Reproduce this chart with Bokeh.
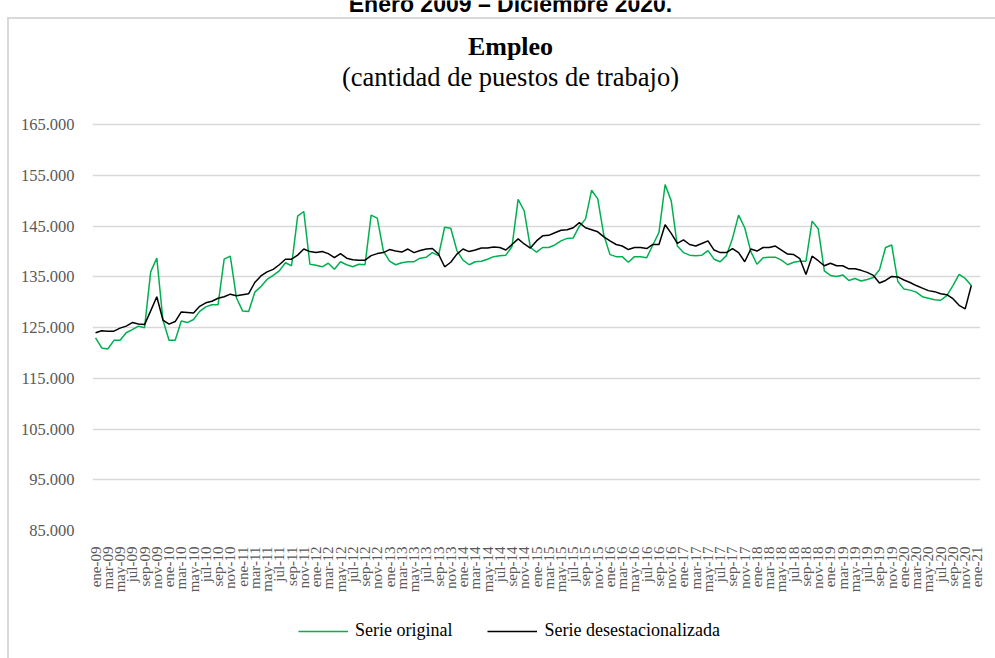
from math import pi
from bokeh.plotting import figure
from bokeh.layouts import column
from bokeh.models import Range1d, FixedTicker, Label, Legend, LegendItem
from bokeh.embed import file_html
from bokeh.resources import INLINE

# ---------------- data ----------------
meses = ["ene", "feb", "mar", "abr", "may", "jun", "jul", "ago", "sep", "oct", "nov", "dic"]
anios = ["09", "10", "11", "12", "13", "14", "15", "16", "17", "18", "19", "20"]
etiquetas_mes = [f"{m}-{a}" for a in anios for m in meses] + ["ene-21"]

# Empleo (miles de puestos), ene-09 .. dic-20
serie_original = [
    123.0, 121.0, 120.8, 122.5, 122.5, 124.0, 124.6, 125.3, 125.0, 136.0, 138.7, 126.5,
    122.5, 122.5, 126.3, 126.0, 126.6, 128.2, 129.1, 129.5, 129.5, 138.5, 139.1, 130.9,
    128.3, 128.2, 132.0, 133.1, 134.5, 135.3, 136.2, 137.8, 137.2, 147.0, 147.9, 137.5,
    137.3, 137.0, 137.7, 136.5, 138.0, 137.4, 137.0, 137.5, 137.4, 147.2, 146.6, 140.1,
    138.1, 137.4, 137.8, 138.0, 138.0, 138.7, 138.9, 139.8, 139.2, 144.8, 144.6, 140.2,
    138.3, 137.4, 138.0, 138.1, 138.5, 139.0, 139.2, 139.3, 141.0, 150.3, 148.0, 140.8,
    139.9, 140.8, 140.8, 141.3, 142.1, 142.6, 142.7, 145.0, 146.4, 152.1, 150.4, 143.2,
    139.4, 139.0, 139.0, 137.9, 139.0, 139.0, 138.8, 141.3, 143.8, 153.2, 150.0, 141.1,
    139.8, 139.3, 139.2, 139.3, 140.2, 138.5, 138.0, 139.2, 142.6, 147.2, 144.7, 140.0,
    137.5, 138.8, 138.9, 138.9, 138.3, 137.4, 137.9, 138.1, 138.1, 146.0, 144.5, 136.2,
    135.3, 135.1, 135.4, 134.3, 134.7, 134.2, 134.5, 134.9, 136.4, 140.8, 141.3, 134.1,
    132.6, 132.4, 132.0, 131.1, 130.8, 130.5, 130.4, 131.3, 133.3, 135.5, 134.7, 133.3,
]
serie_desest = [
    124.0, 124.4, 124.3, 124.3, 124.9, 125.3, 126.0, 125.7, 125.6, 128.3, 131.1, 126.5,
    125.7, 126.2, 128.1, 128.0, 127.9, 129.2, 129.9, 130.2, 130.8, 131.1, 131.6, 131.3,
    131.5, 131.7, 133.9, 135.2, 136.0, 136.5, 137.4, 138.5, 138.5, 139.3, 140.5, 140.0,
    139.8, 140.0, 139.6, 138.8, 139.6, 138.7, 138.4, 138.3, 138.3, 139.2, 139.6, 139.8,
    140.4, 140.1, 139.9, 140.5, 139.8, 140.2, 140.5, 140.6, 139.5, 137.0, 137.9, 139.5,
    140.5, 140.0, 140.3, 140.7, 140.7, 140.9, 140.8, 140.3, 141.4, 142.5, 141.5, 140.7,
    142.1, 143.1, 143.2, 143.7, 144.2, 144.3, 144.7, 145.7, 144.7, 144.3, 143.9, 142.9,
    142.1, 141.4, 141.1, 140.4, 140.8, 140.8, 140.6, 141.4, 141.4, 145.3, 143.6, 141.6,
    142.3, 141.4, 141.1, 141.6, 142.1, 140.3, 139.8, 139.8, 140.6, 139.8, 138.0, 140.5,
    140.1, 140.8, 140.8, 141.1, 140.3, 139.5, 139.4, 138.6, 135.5, 139.1, 138.2, 137.2,
    137.7, 137.2, 137.2, 136.6, 136.6, 136.3, 135.9, 135.3, 133.8, 134.3, 135.1, 135.0,
    134.4, 133.9, 133.3, 132.8, 132.3, 132.1, 131.7, 131.5, 130.7, 129.4, 128.7, 133.3,
]
y_ticks = [85, 95, 105, 115, 125, 135, 145, 155, 165]
y_tick_labels = ["85.000", "95.000", "105.000", "115.000", "125.000",
                 "135.000", "145.000", "155.000", "165.000"]

titulo_sup = "Enero 2009 – Diciembre 2020."
titulo = "Empleo"
subtitulo = "(cantidad de puestos de trabajo)"
nombres = ["Serie original", "Serie desestacionalizada"]

x = list(range(len(serie_original)))

# ---------------- layout (pixels) ----------------
W = 995
H_MAIN, H_LEG = 595, 63
LEFT, RIGHT, BOTTOM = 92, 15, 62
PLOT_H = 408                     # height of the 85.000-165.000 band
frame_h = H_MAIN - BOTTOM        # frame reaches the top of the canvas
y_top = y_ticks[0] + (y_ticks[-1] - y_ticks[0]) * frame_h / PLOT_H
SERIF = "Liberation Serif"
GREEN, BLACK = "#00b050", "#000000"
FRAME_CSS = "linear-gradient(#d9d9d9,#d9d9d9)"

p = figure(width=W, height=H_MAIN, output_backend="svg", toolbar_location=None,
           x_range=Range1d(-0.5, len(etiquetas_mes) - 0.5),
           y_range=Range1d(y_ticks[0], y_top),
           min_border_left=LEFT, min_border_right=RIGHT, min_border_top=0,
           min_border_bottom=BOTTOM)
p.background_fill_color = None
p.border_fill_color = None
p.outline_line_color = None
# light outer frame (left and top edges) behind the transparent canvas
p.styles = {
    "background-color": "white",
    "background-image": f"{FRAME_CSS}, {FRAME_CSS}",
    "background-size": "2px 100%, 100% 2px",
    "background-position": "7px 17px, 7px 17px",
    "background-repeat": "no-repeat",
}

r1 = p.line(x, serie_original, line_color=GREEN, line_width=1.5)
r2 = p.line(x, serie_desest, line_color=BLACK, line_width=1.5)

xt = list(range(0, len(etiquetas_mes), 2))
p.xaxis.ticker = FixedTicker(ticks=xt, minor_ticks=[])
p.xaxis.major_label_overrides = {i: etiquetas_mes[i] for i in xt}
p.xaxis.major_label_orientation = pi / 2
p.xaxis.axis_line_color = None
p.xaxis.major_tick_line_color = None
p.xaxis.minor_tick_line_color = None
p.xaxis.major_label_standoff = 10
p.xaxis.major_label_text_font = SERIF
p.xaxis.major_label_text_font_size = "15px"
p.xaxis.major_label_text_color = "#595959"

p.yaxis.ticker = FixedTicker(ticks=y_ticks, minor_ticks=[])
p.yaxis.major_label_overrides = dict(zip(y_ticks, y_tick_labels))
p.yaxis.axis_line_color = None
p.yaxis.major_tick_line_color = None
p.yaxis.minor_tick_line_color = None
p.yaxis.major_label_standoff = 12
p.yaxis.major_label_text_font = SERIF
p.yaxis.major_label_text_font_size = "16.5px"
p.yaxis.major_label_text_color = "#595959"

p.xgrid.visible = False
p.ygrid.grid_line_color = "#d9d9d9"
p.ygrid.grid_line_width = 1.5

# titles (screen units: from the frame's bottom-left corner, y upwards)
cx = 510 - LEFT
p.add_layout(Label(x=cx, y=frame_h - 6, x_units="screen", y_units="screen", text=titulo_sup,
                   text_font="Liberation Sans", text_font_style="bold",
                   text_font_size="23px", text_color=BLACK,
                   text_align="center", text_baseline="alphabetic"))
p.add_layout(Label(x=cx, y=frame_h - 49, x_units="screen", y_units="screen", text=titulo,
                   text_font=SERIF, text_font_style="bold", text_font_size="26px",
                   text_color=BLACK, text_align="center", text_baseline="alphabetic"))
p.add_layout(Label(x=cx, y=frame_h - 79, x_units="screen", y_units="screen", text=subtitulo,
                   text_font=SERIF, text_font_size="26.5px",
                   text_color=BLACK, text_align="center", text_baseline="alphabetic"))

# ---------------- legend strip ----------------
q = figure(width=W, height=H_LEG, output_backend="svg", toolbar_location=None,
           x_range=Range1d(-0.5, len(etiquetas_mes) - 0.5), y_range=Range1d(0, 1),
           x_axis_type=None, y_axis_type=None,
           min_border_left=0, min_border_right=0, min_border_top=0, min_border_bottom=0)
q.background_fill_color = None
q.border_fill_color = None
q.outline_line_color = None
q.grid.visible = False
q.styles = {
    "background-color": "white",
    "background-image": FRAME_CSS,
    "background-size": "2px 100%",
    "background-position": "7px 0px",
    "background-repeat": "no-repeat",
}
# the series themselves (outside this strip's visible range) feed the legend keys
l1 = q.line(x, serie_original, line_color=GREEN, line_width=1.5)
l2 = q.line(x, serie_desest, line_color=BLACK, line_width=1.5)

legend = Legend(items=[LegendItem(label=nombres[0], renderers=[l1]),
                       LegendItem(label=nombres[1], renderers=[l2])],
                orientation="horizontal", location=(298 - LEFT, 17),
                glyph_width=50, glyph_height=20, label_height=20, label_standoff=7,
                spacing=35, padding=0, margin=0,
                border_line_color=None, background_fill_alpha=0,
                label_text_font=SERIF, label_text_font_size="18px",
                label_text_color=BLACK)
q.add_layout(legend)

layout = column(p, q, spacing=0)
open("out.html", "w").write(file_html(layout, INLINE))
